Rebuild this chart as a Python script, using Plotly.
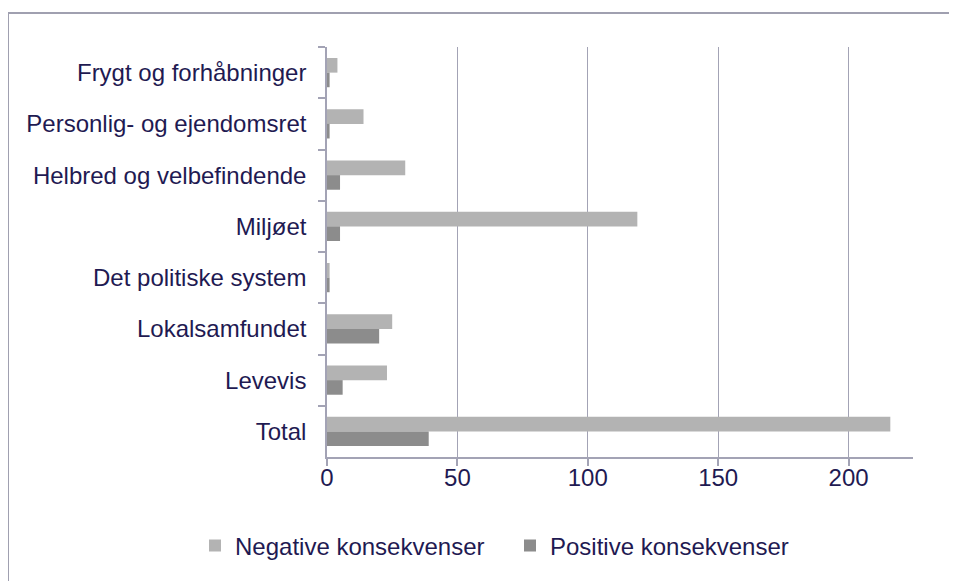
import plotly.graph_objects as go

categories = ["Frygt og forhåbninger", "Personlig- og ejendomsret", "Helbred og velbefindende",
              "Miljøet", "Det politiske system", "Lokalsamfundet", "Levevis", "Total"]
negative = [4, 14, 30, 119, 1, 25, 23, 216]
positive = [1, 1, 5, 5, 1, 20, 6, 39]
series_names = ["Negative konsekvenser", "Positive konsekvenser"]
x_ticks = [0, 50, 100, 150, 200]

# page body has an 8px margin; work in screen pixels and convert
OFF = 8
W, H = 957 - OFF, 581 - OFF
L, R, T, B = 327 - OFF, 957 - 913, 47 - OFF, 581 - 457
pw, ph = W - L - R, H - T - B

font_color = "#1f1a52"
line_color = "#a3a3b5"

fig = go.Figure()
fig.add_trace(go.Bar(y=categories, x=negative, name=series_names[0], orientation="h",
                     marker=dict(color="#b3b3b3", line=dict(width=0))))
fig.add_trace(go.Bar(y=categories, x=positive, name=series_names[1], orientation="h",
                     marker=dict(color="#8c8c8c", line=dict(width=0))))

def px_x(p):  # screen px -> paper x
    return (p - OFF - L) / pw

def px_y(p):  # screen px -> paper y
    return (H - B - (p - OFF)) / ph

fig.add_shape(type="rect", xref="paper", yref="paper",
              x0=px_x(8), x1=px_x(975), y0=px_y(600), y1=px_y(13),
              line=dict(color="#a0a0b0", width=2), fillcolor="rgba(0,0,0,0)", layer="below")

fig.update_layout(
    width=W, height=H,
    margin=dict(l=L, r=R, t=T, b=B),
    paper_bgcolor="white", plot_bgcolor="white",
    barmode="group", bargap=0.43, bargroupgap=0,
    font=dict(family="Liberation Sans, Arial, sans-serif", size=24, color=font_color),
    showlegend=True,
    legend=dict(orientation="h", x=px_x(195), xanchor="left", y=px_y(546), yanchor="middle",
                font=dict(size=24, color=font_color), entrywidth=270, entrywidthmode="pixels",
                bgcolor="rgba(0,0,0,0)"),
    xaxis=dict(range=[0, 224.7], tickvals=x_ticks, ticktext=[str(v) for v in x_ticks],
               showgrid=True, gridcolor=line_color, gridwidth=1,
               showline=True, linecolor=line_color, linewidth=1.5,
               ticks="outside", ticklen=7, tickcolor=line_color, tickwidth=1.5,
               zeroline=False, ticklabelstandoff=-9,
               tickfont=dict(size=24, color=font_color)),
    yaxis=dict(categoryorder="array", categoryarray=categories, autorange="reversed",
               showgrid=False, showline=True, linecolor=line_color, linewidth=1.5,
               ticks="outside", ticklen=7, tickcolor=line_color, tickwidth=1.5,
               tickson="boundaries", ticklabelstandoff=14,
               tickfont=dict(size=24, color=font_color)),
)

fig.write_html("out.html")
